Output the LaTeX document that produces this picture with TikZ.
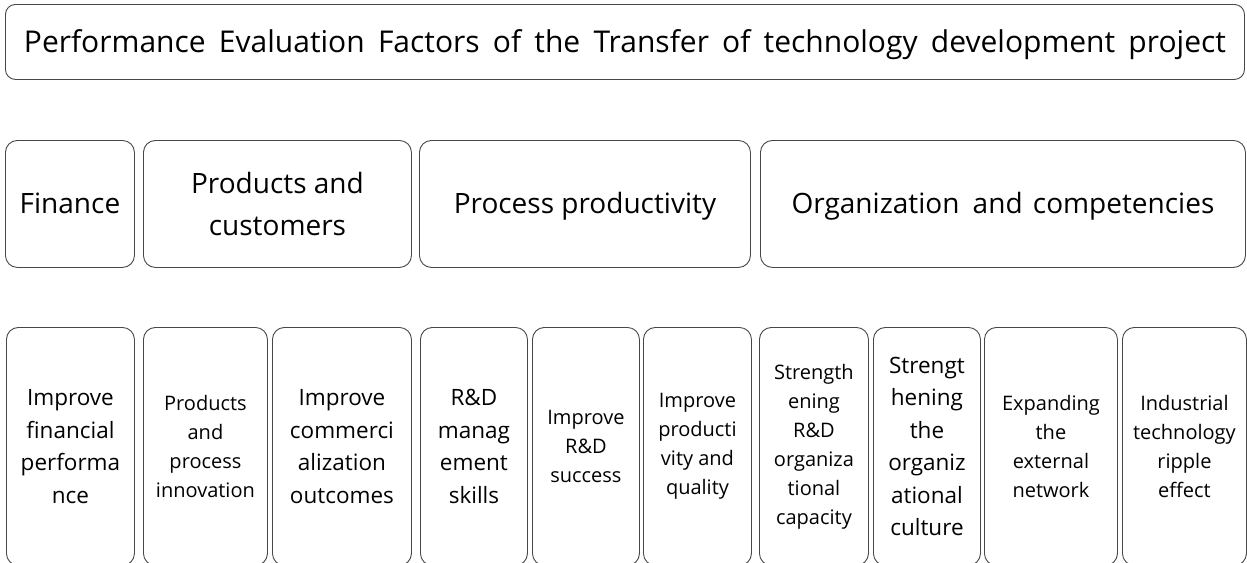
\documentclass[tikz,border=0pt]{standalone}
\usepackage{fontspec}
\setmainfont{Open Sans}
\newfontfamily\widespaced[WordSpace=1.7]{Open Sans}
\begin{document}
\begin{tikzpicture}[x=1pt,y=-1pt,
  frame/.style={draw=black!72, line width=0.9pt, rounded corners=12pt, fill=white,
    anchor=north west, inner sep=0pt, align=center, text=black},
  titlebox/.style={frame, rounded corners=10pt, minimum height=75pt,
    text height=22pt, text depth=0pt,
    font=\widespaced\fontsize{30}{34}\selectfont},
  groupbox/.style={frame, minimum height=127pt, font=\fontsize{28}{42}\selectfont},
  oneline/.style={text height=20pt, text depth=0pt},
  itembig/.style={frame, minimum height=238pt, font=\fontsize{22.5}{32.5}\selectfont},
  itemsmall/.style={frame, minimum height=238pt, font=\fontsize{20}{29}\selectfont}]
\clip (0,0) rectangle (1247,562);
\useasboundingbox (0,0) rectangle (1247,562);

% heading
\node[titlebox, minimum width=1239pt] (title) at (5,4)
  {Performance Evaluation Factors of the Transfer of technology development project};

% perspectives
\node[groupbox, oneline, minimum width=129pt] (fin)  at (5,140)   {Finance};
\node[groupbox, minimum width=268pt] (prod) at (143,140) {Products and\\customers};
\node[groupbox, oneline, minimum width=331pt] (proc) at (419,140) {Process productivity};
\node[groupbox, oneline, minimum width=485pt] (org)  at (760,140) {Organization\hspace{6pt} and\hspace{3pt} competencies};

% evaluation factors
\node[itembig,   minimum width=128pt] (f1)  at (6,327)    {Improve\\financial\\performa\\nce};
\node[itemsmall, minimum width=124pt] (f2)  at (143,327)  {Products\\and\\process\\innovation};
\node[itembig,   minimum width=139pt] (f3)  at (272,327)  {Improve\\commerci\\alization\\outcomes};
\node[itembig,   minimum width=107pt] (f4)  at (420,327)  {R\&D\\manag\\ement\\skills};
\node[itemsmall, minimum width=107pt] (f5)  at (532,327)  {Improve\\R\&D\\success};
\node[itemsmall, minimum width=108pt] (f6)  at (643,327)  {Improve\\producti\\vity and\\quality};
\node[itemsmall, minimum width=109pt] (f7)  at (759,327)  {Strength\\ening\\R\&D\\organiza\\tional\\capacity};
\node[itembig,   minimum width=107pt] (f8)  at (873,327)  {Strengt\\hening\\the\\organiz\\ational\\culture};
\node[itemsmall, minimum width=133pt] (f9)  at (984,327)  {Expanding\\the\\external\\network};
\node[itemsmall, minimum width=124pt] (f10) at (1122,327) {Industrial\\technology\\ripple\\effect};
\end{tikzpicture}
\end{document}
